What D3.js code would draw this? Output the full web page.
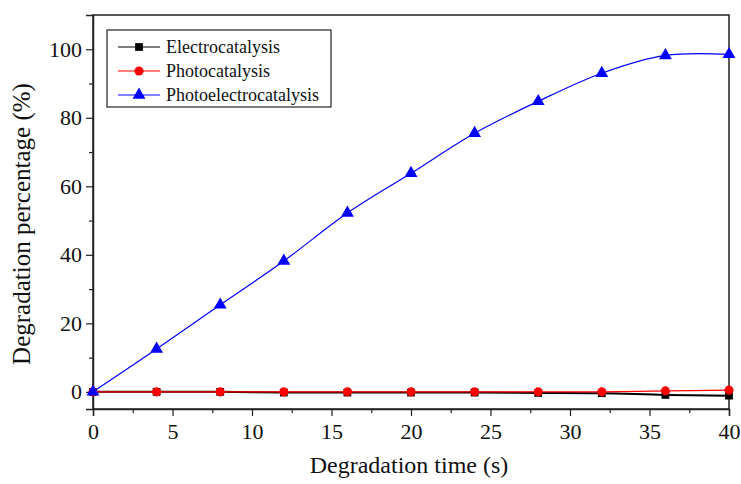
<!DOCTYPE html>
<html lang="en">
<head>
<meta charset="utf-8">
<script src="https://d3js.org/d3.v7.min.js"></script>
<style>
  body { margin: 0; background: #fff; }
  text { font-family: "Liberation Serif", "Times New Roman", serif; fill: #111; }
</style>
</head>
<body>
<script>
var times = [0, 4, 8, 12, 16, 20, 24, 28, 32, 36, 40];
var electro = [0, 0, 0, -0.2, -0.2, -0.2, -0.2, -0.3, -0.4, -0.9, -1.1];
var photo = [0, 0, 0, 0, 0, 0, 0, 0, 0, 0.3, 0.5];
var photoElectro = [0, 12.5, 25.4, 38.2, 52.2, 63.8, 75.5, 84.8, 93.0, 98.2, 98.5];
var seriesNames = ["Electrocatalysis", "Photocatalysis", "Photoelectrocatalysis"];

var width = 741, height = 484;
var margin = {top: 15, right: 12, bottom: 75, left: 93};
var w = width - margin.left - margin.right,
    h = height - margin.top - margin.bottom;

var svg = d3.select("body").append("svg")
    .attr("width", width).attr("height", height);
var g = svg.append("g")
    .attr("transform", "translate(" + margin.left + "," + margin.top + ")");

var x = d3.scaleLinear().domain([0, 40]).range([0, w]);
var y = d3.scaleLinear().domain([-5, 110]).range([h, 0]);

// frame
g.append("rect").attr("width", w).attr("height", h)
    .attr("fill", "none").attr("stroke", "#222").attr("stroke-width", 1.5);

// x axis
g.append("g").attr("transform", "translate(0," + h + ")")
    .call(d3.axisBottom(x).tickValues(d3.range(0, 41, 5)).tickSize(7).tickPadding(7));
g.append("g").attr("transform", "translate(0," + h + ")")
    .call(d3.axisBottom(x).tickValues(d3.range(2.5, 40, 5)).tickSize(4).tickFormat(""))
    .select(".domain").remove();

// y axis
g.append("g")
    .call(d3.axisLeft(y).tickValues(d3.range(0, 101, 20)).tickSize(7).tickPadding(4));
g.append("g")
    .call(d3.axisLeft(y).tickValues(d3.range(10, 110, 20)).tickSize(4).tickFormat(""))
    .select(".domain").remove();

svg.selectAll(".domain").attr("stroke", "#222").attr("stroke-width", 1.5);
svg.selectAll(".tick line").attr("stroke", "#222").attr("stroke-width", 1.2);
svg.selectAll(".tick text").style("font-size", "22px")
    .style("font-family", "Liberation Serif, serif").attr("fill", "#111");

// titles
svg.append("text")
    .attr("x", margin.left + w / 2 - 2).attr("y", 473)
    .attr("text-anchor", "middle").style("font-size", "24px")
    .text("Degradation time (s)");
svg.append("text")
    .attr("transform", "translate(30,224) rotate(-90)")
    .attr("text-anchor", "middle").style("font-size", "25px")
    .text("Degradation percentage (%)");

var colors = ["#000000", "#ff0000", "#0000ff"];
var symbols = [d3.symbolSquare, d3.symbolCircle, d3.symbolTriangle];
var sizes = [60, 65, 72];
var allData = [electro, photo, photoElectro];

var line = d3.line().curve(d3.curveCatmullRom)
    .x(function(d, i) { return x(times[i]); })
    .y(function(d) { return y(d); });

allData.forEach(function(vals, k) {
  g.append("path").datum(vals)
    .attr("d", line).attr("fill", "none")
    .attr("stroke", colors[k]).attr("stroke-width", k === 0 ? 2 : 1.2);
  g.selectAll(".m" + k).data(vals).enter().append("path")
    .attr("class", "m" + k)
    .attr("transform", function(d, i) { return "translate(" + x(times[i]) + "," + y(d) + ")"; })
    .attr("d", d3.symbol().type(symbols[k]).size(sizes[k]))
    .attr("fill", colors[k]);
});

// legend
var lg = svg.append("g").attr("transform", "translate(107,30)");
lg.append("rect").attr("width", 224).attr("height", 77)
  .attr("fill", "#fff").attr("stroke", "#222").attr("stroke-width", 1.2);
seriesNames.forEach(function(name, k) {
  var ly = 17 + k * 24;
  lg.append("line").attr("x1", 11).attr("x2", 53).attr("y1", ly).attr("y2", ly)
    .attr("stroke", colors[k]).attr("stroke-width", 1.2);
  lg.append("path").attr("transform", "translate(32," + ly + ")")
    .attr("d", d3.symbol().type(symbols[k]).size(sizes[k])).attr("fill", colors[k]);
  lg.append("text").attr("x", 59).attr("y", ly + 6)
    .style("font-size", "18px").text(name);
});
</script>
</body>
</html>
